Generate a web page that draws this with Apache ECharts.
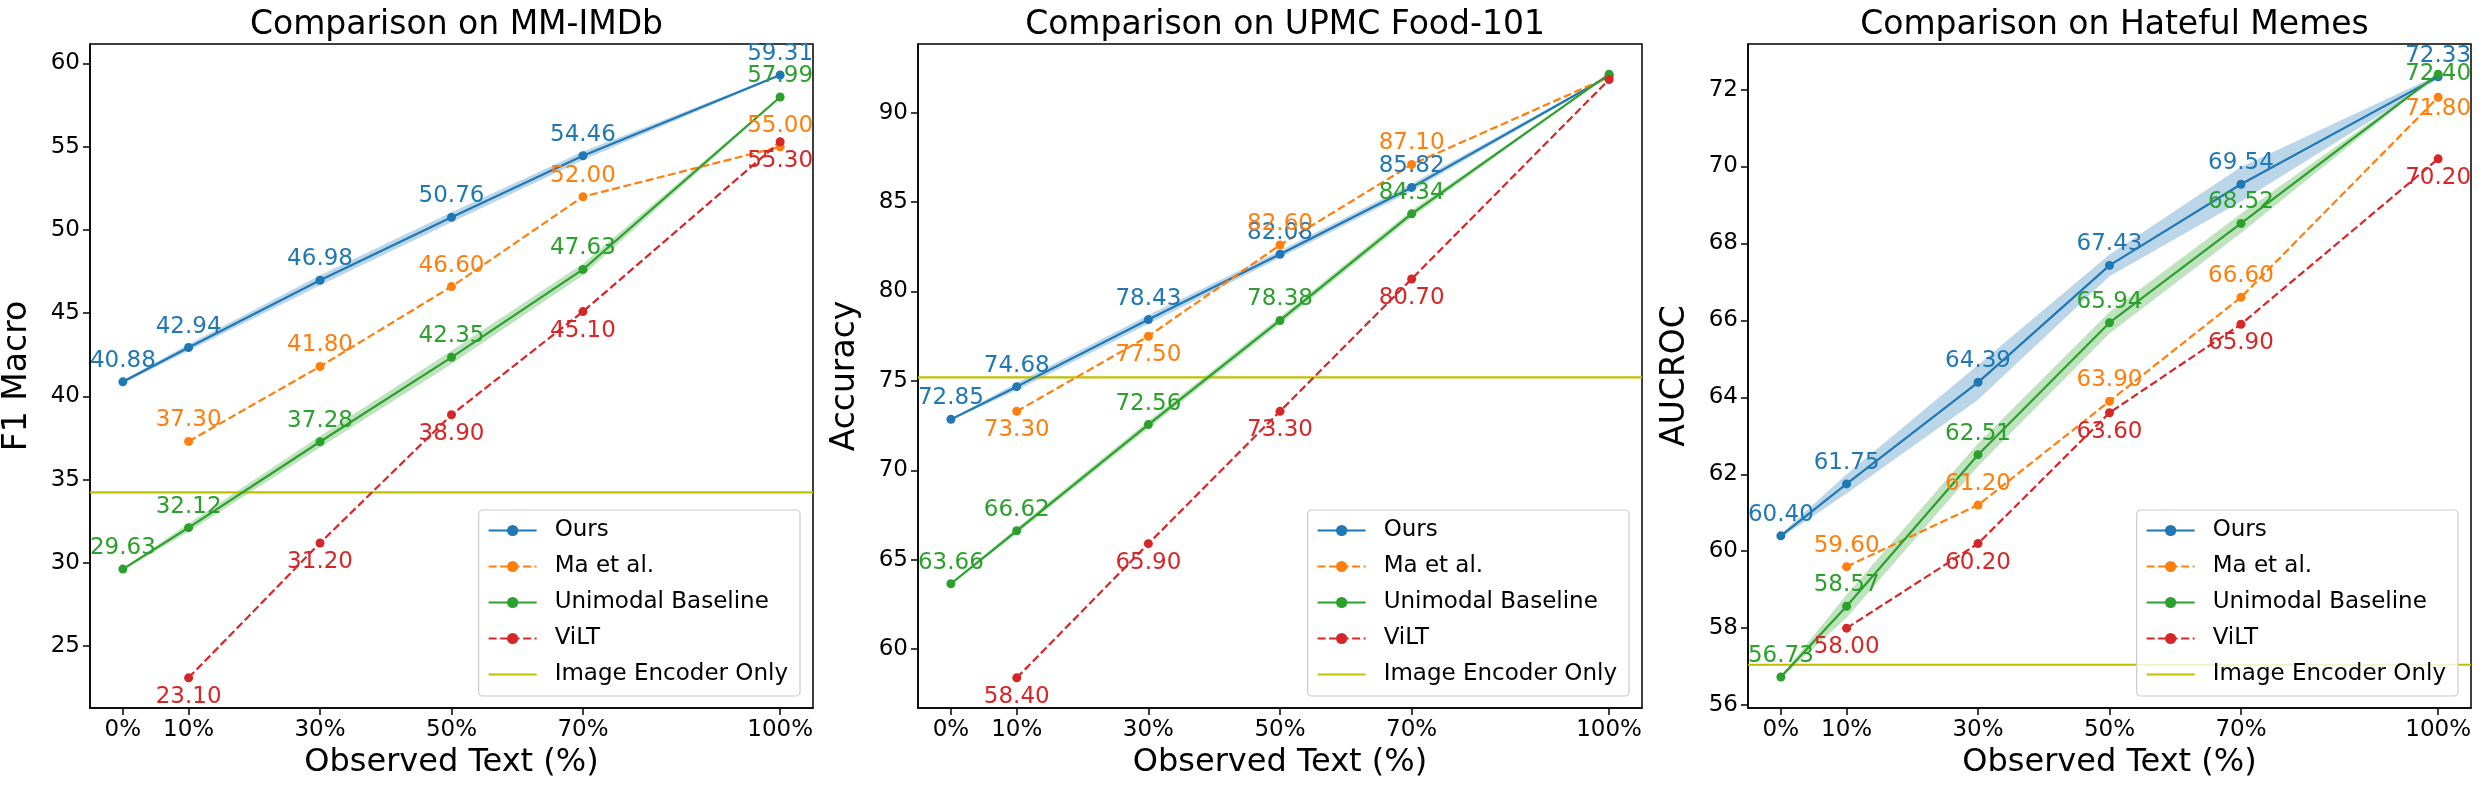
<!DOCTYPE html>
<html>
<head>
<meta charset="utf-8">
<script src="https://cdn.jsdelivr.net/npm/echarts@6/dist/echarts.min.js"></script>
<style>
  html, body { margin: 0; padding: 0; background: #fff; }
  #chart { width: 2483px; height: 790px; }
</style>
</head>
<body>
<div id="chart"></div>
<script>
// x positions (observed text %)
const xTicks = [0, 10, 30, 50, 70, 100];
const seriesNames = ['Ours', 'Ma et al.', 'Unimodal Baseline', 'ViLT'];
const baselineName = 'Image Encoder Only';

// MM-IMDb
const imdbOurs = [40.88, 42.94, 46.98, 50.76, 54.46, 59.31];
const imdbOursStd = [0.1, 0.2, 0.3, 0.3, 0.25, 0.05];
const imdbMa = [null, 37.30, 41.80, 46.60, 52.00, 55.00];
const imdbUni = [29.63, 32.12, 37.28, 42.35, 47.63, 57.99];
const imdbUniStd = [0.05, 0.25, 0.35, 0.4, 0.35, 0.05];
const imdbVilt = [null, 23.10, 31.20, 38.90, 45.10, 55.30];
const imdbImageOnly = 34.24;
const imdbYTicks = [25, 30, 35, 40, 45, 50, 55, 60];

// UPMC Food-101
const foodOurs = [72.85, 74.68, 78.43, 82.08, 85.82, 92.05];
const foodOursStd = [0.05, 0.2, 0.25, 0.2, 0.2, 0.05];
const foodMa = [null, 73.30, 77.50, 82.60, 87.10, 92.00];
const foodUni = [63.66, 66.62, 72.56, 78.38, 84.34, 92.15];
const foodUniStd = [0.05, 0.15, 0.2, 0.2, 0.2, 0.0];
const foodVilt = [null, 58.40, 65.90, 73.30, 80.70, 91.85];
const foodImageOnly = 75.2;
const foodYTicks = [60, 65, 70, 75, 80, 85, 90];

// Hateful Memes
const memeOurs = [60.40, 61.75, 64.39, 67.43, 69.54, 72.33];
const memeOursStd = [0.05, 0.25, 0.45, 0.28, 0.45, 0.05];
const memeMa = [null, 59.60, 61.20, 63.90, 66.60, 71.80];
const memeUni = [56.73, 58.57, 62.51, 65.94, 68.52, 72.40];
const memeUniStd = [0.02, 0.3, 0.3, 0.28, 0.25, 0.0];
const memeVilt = [null, 58.00, 60.20, 63.60, 65.90, 70.20];
const memeImageOnly = 57.05;
const memeYTicks = [56, 58, 60, 62, 64, 66, 68, 70, 72];

const colors = ['#1f77b4', '#ff7f0e', '#2ca02c', '#d62728'];
const bandColors = ['rgba(31,119,180,0.3)', null, 'rgba(44,160,44,0.3)', null];
const yellow = '#bfbf00';
const font = 'DejaVu Sans';

var chartDom = document.getElementById('chart');
var myChart = echarts.init(chartDom, null, { renderer: 'canvas' });

// panel layout and label placement
const panels = [
  {
    title: 'Comparison on MM-IMDb', yName: 'F1 Macro', left: 90, width: 723,
    values: [imdbOurs, imdbMa, imdbUni, imdbVilt], stds: [imdbOursStd, null, imdbUniStd, null],
    base: imdbImageOnly, yTicks: imdbYTicks, lastLabel: true,
    pos: [['top'], ['top'], ['top'], ['bottom']]
  },
  {
    title: 'Comparison on UPMC Food-101', yName: 'Accuracy', left: 918, width: 724,
    values: [foodOurs, foodMa, foodUni, foodVilt], stds: [foodOursStd, null, foodUniStd, null],
    base: foodImageOnly, yTicks: foodYTicks, lastLabel: false,
    pos: [['top'], [null, 'bottom', 'bottom', 'top', 'top', 'top'], ['top'], ['bottom']]
  },
  {
    title: 'Comparison on Hateful Memes', yName: 'AUCROC', left: 1748, width: 723,
    values: [memeOurs, memeMa, memeUni, memeVilt], stds: [memeOursStd, null, memeUniStd, null],
    base: memeImageOnly, yTicks: memeYTicks, lastLabel: true,
    pos: [['top'], ['top', 'top', 'top', 'top', 'top', 'near'],
          ['top', 'top', 'top', 'top', 'top', 'inside'], ['bottom']]
  }
];

const gridTop = 44, gridHeight = 664;
var grids = [], xAxes = [], yAxes = [], titles = [], legends = [], series = [];

panels.forEach(function (p, i) {
  // y range like matplotlib autoscale: data extent (incl. bands) + 5%
  var lo = Infinity, hi = -Infinity;
  p.values.forEach(function (arr, k) {
    arr.forEach(function (v, j) {
      if (v == null) return;
      var s = p.stds[k] ? p.stds[k][j] : 0;
      lo = Math.min(lo, v - s);
      hi = Math.max(hi, v + s);
    });
  });
  var pad = (hi - lo) * 0.05;
  var xPad = (xTicks[xTicks.length - 1] - xTicks[0]) * 0.05;
  var xMin = xTicks[0] - xPad, xMax = xTicks[xTicks.length - 1] + xPad;

  grids.push({
    left: p.left, top: gridTop, width: p.width, height: gridHeight,
    show: true, borderColor: '#000', borderWidth: 1.5, backgroundColor: 'transparent'
  });

  titles.push({
    text: p.title, left: p.left + p.width / 2, top: 4, textAlign: 'center',
    textStyle: { fontFamily: font, fontSize: 33, fontWeight: 'normal', color: '#000' }
  });

  xAxes.push({
    type: 'value', gridIndex: i, min: xMin, max: xMax,
    name: 'Observed Text (%)', nameLocation: 'middle', nameGap: 36,
    nameTextStyle: { fontFamily: font, fontSize: 32, color: '#000' },
    axisLine: { show: true, onZero: false, lineStyle: { color: '#000', width: 1.5 } },
    axisTick: { show: true, length: 7, lineStyle: { color: '#000', width: 1.5 }, customValues: xTicks },
    axisLabel: {
      fontFamily: font, fontSize: 23, color: '#000', margin: 11, customValues: xTicks,
      formatter: function (v) { return v + '%'; }
    },
    splitLine: { show: false }
  });

  yAxes.push({
    type: 'value', gridIndex: i, min: lo - pad, max: hi + pad,
    name: p.yName, nameLocation: 'middle', nameGap: 56,
    nameTextStyle: { fontFamily: font, fontSize: 33, color: '#000' },
    axisLine: { show: true, onZero: false, lineStyle: { color: '#000', width: 1.5 } },
    axisTick: { show: true, length: 7, lineStyle: { color: '#000', width: 1.5 }, customValues: p.yTicks },
    axisLabel: { fontFamily: font, fontSize: 23, color: '#000', margin: 10, customValues: p.yTicks },
    splitLine: { show: false }
  });

  // shaded bands (mean +- std), one polygon per band
  p.values.forEach(function (arr, k) {
    if (!p.stds[k]) return;
    var std = p.stds[k];
    var rows = xTicks.map(function (x, j) { return [x, arr[j] - std[j], arr[j] + std[j]]; });
    series.push({
      name: 'band' + i + '_' + k, type: 'custom', xAxisIndex: i, yAxisIndex: i,
      data: rows, encode: { x: 0, y: [1, 2] }, silent: true, z: 1,
      renderItem: function (params, api) {
        if (params.dataIndex !== 0) return;
        var up = rows.map(function (r) { return api.coord([r[0], r[2]]); });
        var dn = rows.map(function (r) { return api.coord([r[0], r[1]]); }).reverse();
        return { type: 'polygon', shape: { points: up.concat(dn) }, style: { fill: bandColors[k] } };
      }
    });
  });

  // main lines
  p.values.forEach(function (arr, k) {
    var dashed = (k === 1 || k === 3);
    var data = [];
    arr.forEach(function (v, j) {
      if (v == null) return;
      var pos = p.pos[k].length > 1 ? p.pos[k][j] : p.pos[k][0];
      var showLbl = p.lastLabel || j < arr.length - 1;
      var lbl = { show: showLbl, position: pos, distance: pos === 'top' ? 5 : 3 };
      if (pos === 'near') { lbl.position = 'bottom'; lbl.distance = -4; }
      data.push({ value: [xTicks[j], v], label: lbl });
    });
    series.push({
      name: seriesNames[k], type: 'line', xAxisIndex: i, yAxisIndex: i, data: data,
      symbol: 'circle', symbolSize: 9, z: 3,
      itemStyle: { color: colors[k] },
      lineStyle: { color: colors[k], width: 2.2, type: dashed ? [8, 3.5] : 'solid' },
      label: {
        color: colors[k], fontFamily: font, fontSize: 23,
        formatter: function (prm) { return prm.value[1].toFixed(2); }
      },
      labelLayout: { hideOverlap: false },
      emphasis: { disabled: true }
    });
  });

  // horizontal image-only line across the whole x range
  series.push({
    name: baselineName, type: 'line', xAxisIndex: i, yAxisIndex: i,
    data: [[xMin, p.base], [xMax, p.base]],
    symbol: 'none', showSymbol: false, z: 2, silent: true,
    itemStyle: { color: yellow },
    lineStyle: { color: yellow, width: 2.2 },
    emphasis: { disabled: true }
  });

  legends.push({
    data: seriesNames.concat([{ name: baselineName, itemStyle: { opacity: 0 } }]),
    orient: 'vertical',
    right: 2483 - (p.left + p.width - 13),
    bottom: 94,
    itemWidth: 48, itemHeight: 14, itemGap: 9,
    padding: [7, 12, 8, 9],
    backgroundColor: 'rgba(255,255,255,0.8)',
    borderColor: '#cccccc', borderWidth: 1.2, borderRadius: 4,
    selectedMode: false,
    textStyle: { fontFamily: font, fontSize: 23, color: '#000', lineHeight: 27, padding: [0, 0, 0, 13] }
  });
});

var option = {
  animation: false,
  backgroundColor: '#fff',
  textStyle: { fontFamily: font },
  title: titles,
  grid: grids,
  xAxis: xAxes,
  yAxis: yAxes,
  legend: legends,
  series: series
};

option && myChart.setOption(option);
</script>
</body>
</html>
